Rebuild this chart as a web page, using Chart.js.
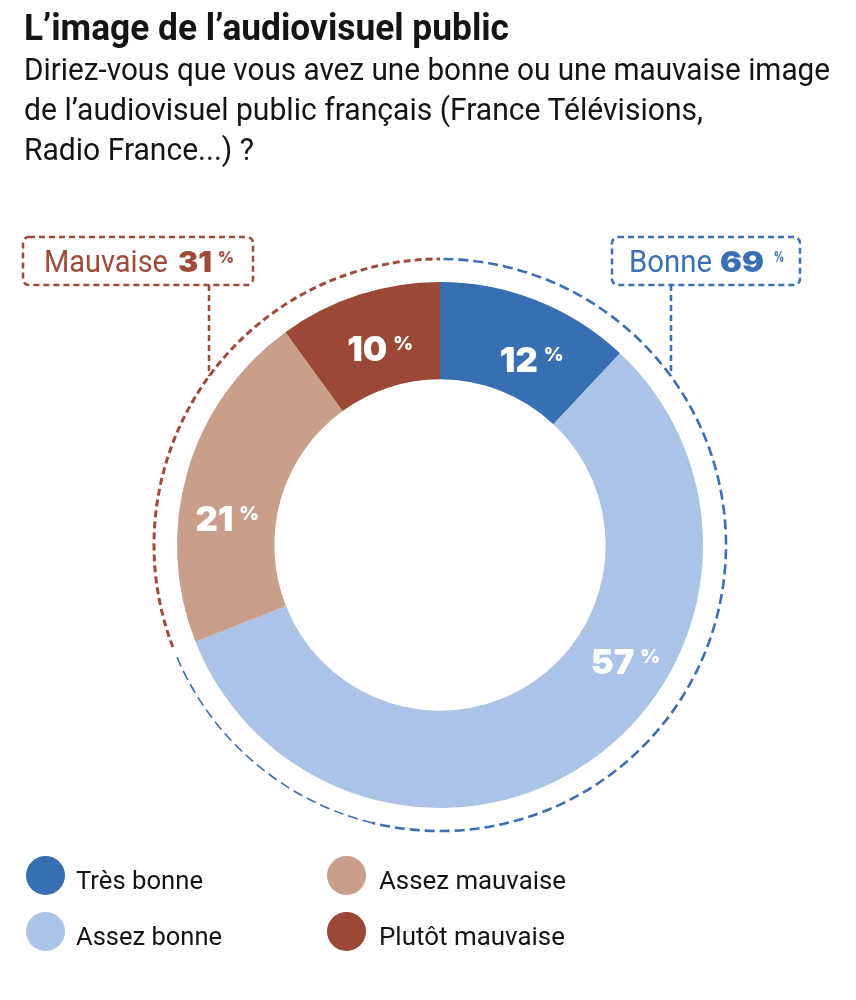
<!DOCTYPE html>
<html><head><meta charset="utf-8">
<script src="https://cdn.jsdelivr.net/npm/chart.js@4.4.1/dist/chart.umd.min.js"></script>
<style>
html,body{margin:0;padding:0;background:#fff;}
#wrap{position:relative;width:856px;height:1000px;overflow:hidden;background:#fff;}
#c{position:absolute;left:0;top:0;}
.t{position:absolute;white-space:nowrap;line-height:1;transform-origin:0 0;}
.dot{position:absolute;border-radius:50%;}
</style></head><body>
<div id="wrap"><canvas id="c" width="856" height="1000"></canvas></div>
<script>
// ---- data ----
const categories = ['Très bonne', 'Assez bonne', 'Assez mauvaise', 'Plutôt mauvaise'];
const values = [12, 57, 21, 10];
const colors = ['#386EB2', '#AAC3E6', '#C99E8B', '#9B4837'];
const groupNames = ['Bonne', 'Mauvaise'];
const groupTotals = [69, 31];
const groupMembers = [[0, 1], [2, 3]];
const groupColors = ['#3A6FB3', '#A04A39'];
const titleText = 'L’image de l’audiovisuel public';
const subtitleLines = [
  'Diriez-vous que vous avez une bonne ou une mauvaise image',
  'de l’audiovisuel public français (France Télévisions,',
  'Radio France...) ?'
];
const legendOrder = [0, 2, 1, 3];

const wrap = document.getElementById('wrap');
function addText(text, font, color, x, baseline, targetW) {
  const el = document.createElement('div');
  el.className = 't';
  el.style.font = font;
  el.style.lineHeight = '1';
  el.style.color = color;
  el.appendChild(document.createTextNode(text));
  const m = document.createElement('i');
  m.style.cssText = 'display:inline-block;width:0;height:0;vertical-align:baseline';
  el.appendChild(m);
  wrap.appendChild(el);
  const off = m.offsetTop;
  el.style.left = x + 'px';
  el.style.top = (baseline - off) + 'px';
  if (targetW) {
    const w = el.getBoundingClientRect().width;
    el.style.transform = 'scaleX(' + (targetW / w) + ')';
  }
  return el;
}

// title & subtitle
addText(titleText, '700 37.5px Roboto', '#141414', 24, 39.5, 485);
const subW = [806, 679, 230];
const subBase = [80, 119.5, 159.5];
subtitleLines.forEach((s, i) => addText(s, '400 31.5px Roboto', '#141414', 24, subBase[i], subW[i]));

// legend (2 columns)
const legCol = [{dx: 45.5, tx: 76}, {dx: 346, tx: 379}];
const legRow = [875.5, 931];
const legW = {0: 127, 1: 146, 2: 187, 3: 186};
legendOrder.forEach((ci, k) => {
  const col = legCol[k % 2], rowY = legRow[Math.floor(k / 2)];
  const d = document.createElement('div');
  d.className = 'dot';
  d.style.cssText += 'left:' + (col.dx - 19.5) + 'px;top:' + (rowY - 19.5) + 'px;width:39px;height:39px;background:' + colors[ci];
  wrap.appendChild(d);
  addText(categories[ci], '400 26.5px Roboto', '#141414', col.tx, rowY + 13.5, legW[ci]);
});

// callout box texts
addText(groupNames[1], '400 31px Roboto', groupColors[1], 44, 272, 124);
addText(String(groupTotals[1]), '900 28px Inter', groupColors[1], 178, 272, 34);
addText('%', '900 16px Inter', groupColors[1], 218, 263, 16);
addText(groupNames[0], '400 31px Roboto', groupColors[0], 629, 272, 83);
addText(String(groupTotals[0]), '900 28px Inter', groupColors[0], 720, 272, 44);
addText('%', '900 14px Inter', groupColors[0], 774, 262, 10);

const ringPlugin = {
  id: 'ring',
  afterDatasetsDraw(chart, args, opts) {
    const ctx = chart.ctx;
    const arcs = chart.getDatasetMeta(0).data;
    const cx = arcs[0].x, cy = arcs[0].y, R = arcs[0].outerRadius, r = arcs[0].innerRadius;
    // data labels
    arcs.forEach((a, i) => {
      const an = opts.anchors[i];
      const ang = a.startAngle + (a.endAngle - a.startAngle) * an.t;
      const rad = r + (R - r) * an.r;
      const x = cx + Math.cos(ang) * rad, y = cy + Math.sin(ang) * rad;
      ctx.save();
      ctx.fillStyle = '#fff';
      ctx.textAlign = 'left';
      ctx.textBaseline = 'alphabetic';
      const num = String(values[i]);
      ctx.font = '900 34.5px Inter';
      const wn = ctx.measureText(num).width;
      ctx.font = '900 19px Inter';
      const wp = ctx.measureText('%').width;
      const gap = 6;
      const x0 = x - (wn + gap + wp) / 2;
      const top = y - 12.5;
      ctx.font = '900 34.5px Inter';
      ctx.fillText(num, x0, top + 25);
      ctx.font = '900 19px Inter';
      ctx.fillText('%', x0 + wn + gap, top + 14);
      ctx.restore();
    });
    // dashed group rings, boxes and connectors
    const Rr = R + opts.ringGap;
    groupMembers.forEach((m, g) => {
      const s = arcs[m[0]].startAngle, e = arcs[m[m.length - 1]].endAngle;
      const st = opts.ringStyle[g];
      ctx.save();
      ctx.strokeStyle = groupColors[g];
      ctx.setLineDash(st.dash);
      const split = s + (e - s) * st.split;
      ctx.lineWidth = st.w;
      ctx.beginPath();
      ctx.arc(cx, cy, Rr, s + 0.012, split);
      ctx.stroke();
      if (st.split < 1) {
        ctx.lineWidth = st.w2;
        ctx.beginPath();
        ctx.arc(cx, cy, Rr, split, e - 0.012);
        ctx.stroke();
      }
      const b = opts.boxes[g];
      ctx.lineWidth = 2.5;
      ctx.setLineDash([6, 4]);
      ctx.beginPath();
      ctx.roundRect(b.x, b.y, b.w, b.h, 6);
      ctx.stroke();
      ctx.beginPath();
      const yEnd = cy - Math.sqrt(Rr * Rr - (b.lx - cx) * (b.lx - cx));
      ctx.moveTo(b.lx, b.y + b.h);
      ctx.lineTo(b.lx, yEnd);
      ctx.stroke();
      ctx.restore();
    });
  }
};

new Chart(document.getElementById('c'), {
  type: 'doughnut',
  data: {
    labels: categories,
    datasets: [{data: values, backgroundColor: colors, borderWidth: 0, hoverOffset: 0}]
  },
  options: {
    responsive: false,
    animation: false,
    events: [],
    cutout: '63%',
    layout: {padding: {left: 177, right: 153, top: 282, bottom: 192}},
    plugins: {
      legend: {display: false},
      tooltip: {enabled: false},
      ring: {
        anchors: [{t: 0.61, r: 0.42}, {t: 0.385, r: 0.55}, {t: 0.38, r: 0.5}, {t: 0.53, r: 0.41}],
        ringGap: 23,
        ringStyle: [{w: 2.6, w2: 1.6, split: 0.78, dash: [10, 5]}, {w: 3, split: 1, dash: [7, 4]}],
        boxes: [
          {x: 612, y: 237, w: 188, h: 48, lx: 671},
          {x: 23, y: 237, w: 230, h: 48, lx: 209}
        ]
      }
    }
  },
  plugins: [ringPlugin]
});
</script>
</body></html>
